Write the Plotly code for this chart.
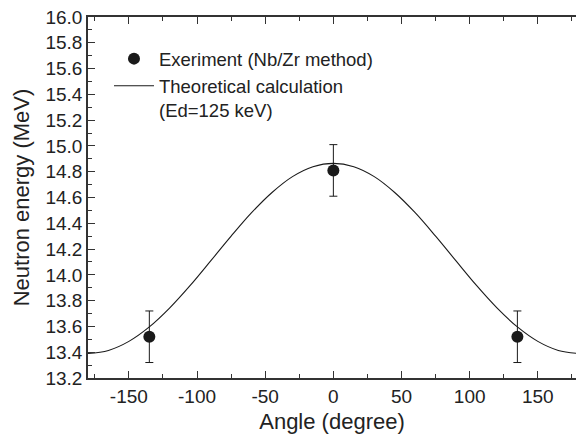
import plotly.graph_objects as go

# Données expérimentales (méthode Nb/Zr)
angle_exp = [-135, 0, 135]
energie_exp = [13.52, 14.81, 13.52]
erreur_exp = [0.2, 0.2, 0.2]

# Calcul théorique (Ed=125 keV)
angle_th = [-180, -165, -150, -135, -120, -105, -90, -75, -60, -45, -30, -15, 0,
            15, 30, 45, 60, 75, 90, 105, 120, 135, 150, 165, 180]
energie_th = [13.390, 13.414, 13.484, 13.596, 13.744, 13.918, 14.108, 14.300, 14.482,
              14.639, 14.762, 14.839, 14.865, 14.839, 14.762, 14.639, 14.482, 14.300,
              14.108, 13.918, 13.744, 13.596, 13.484, 13.414, 13.390]

x_ticks = [-150, -100, -50, 0, 50, 100, 150]
x_labels = ["-150", "-100", "-50", "0", "50", "100", "150"]
y_ticks = [13.2, 13.4, 13.6, 13.8, 14.0, 14.2, 14.4, 14.6, 14.8, 15.0,
           15.2, 15.4, 15.6, 15.8, 16.0]

police = "Liberation Sans, Arial, sans-serif"
noir = "#1a1a1a"

fig = go.Figure()
fig.add_trace(go.Scatter(x=angle_exp, y=energie_exp, mode="markers",
                         name="Exeriment (Nb/Zr method)",
                         marker=dict(color=noir, size=12),
                         error_y=dict(type="data", array=erreur_exp, color=noir,
                                      thickness=1, width=4)))
fig.add_trace(go.Scatter(x=angle_th, y=energie_th, mode="lines",
                         name="Theoretical calculation<br>(Ed=125 keV)",
                         line=dict(color=noir, width=1.1, shape="spline")))

fig.update_layout(
    width=576, height=442,
    margin=dict(l=88, r=0, t=17, b=64),
    paper_bgcolor="white", plot_bgcolor="white",
    font=dict(family=police, size=19, color="#222"),
    legend=dict(x=0.043, y=0.936, xanchor="left", yanchor="top",
                bgcolor="rgba(0,0,0,0)", font=dict(size=18.5), valign="top",
                itemwidth=40, tracegroupgap=0),
)
fig.update_xaxes(range=[-180, 178], tickvals=x_ticks, ticktext=x_labels,
                 ticks="inside", ticklen=7, tickwidth=1.2, tickcolor="#333",
                 showline=True, linecolor="#333", linewidth=1.5, mirror="ticks",
                 showgrid=False, zeroline=False, automargin=False,
                 minor=dict(dtick=25, tick0=0, ticks="inside", ticklen=4,
                            tickcolor="#333"),
                 title=dict(text="Angle (degree)", font=dict(size=22), standoff=8),
                 tickfont=dict(size=19))
fig.update_yaxes(range=[13.2, 16.0], tickvals=y_ticks, tickformat=".1f",
                 ticks="inside", ticklen=7, tickwidth=1.2, tickcolor="#333",
                 showline=True, linecolor="#333", linewidth=1.5, showgrid=False,
                 zeroline=False, automargin=False,
                 minor=dict(dtick=0.1, tick0=13.2, ticks="inside", ticklen=4,
                            tickcolor="#333"),
                 title=dict(text="Neutron energy (MeV)", font=dict(size=22), standoff=10),
                 tickfont=dict(size=19))

# pas de marge autour de la figure dans la page
fig.write_html("out.html", config={"displayModeBar": False},
               post_script="document.body.style.margin='0';document.body.style.overflow='hidden';")
